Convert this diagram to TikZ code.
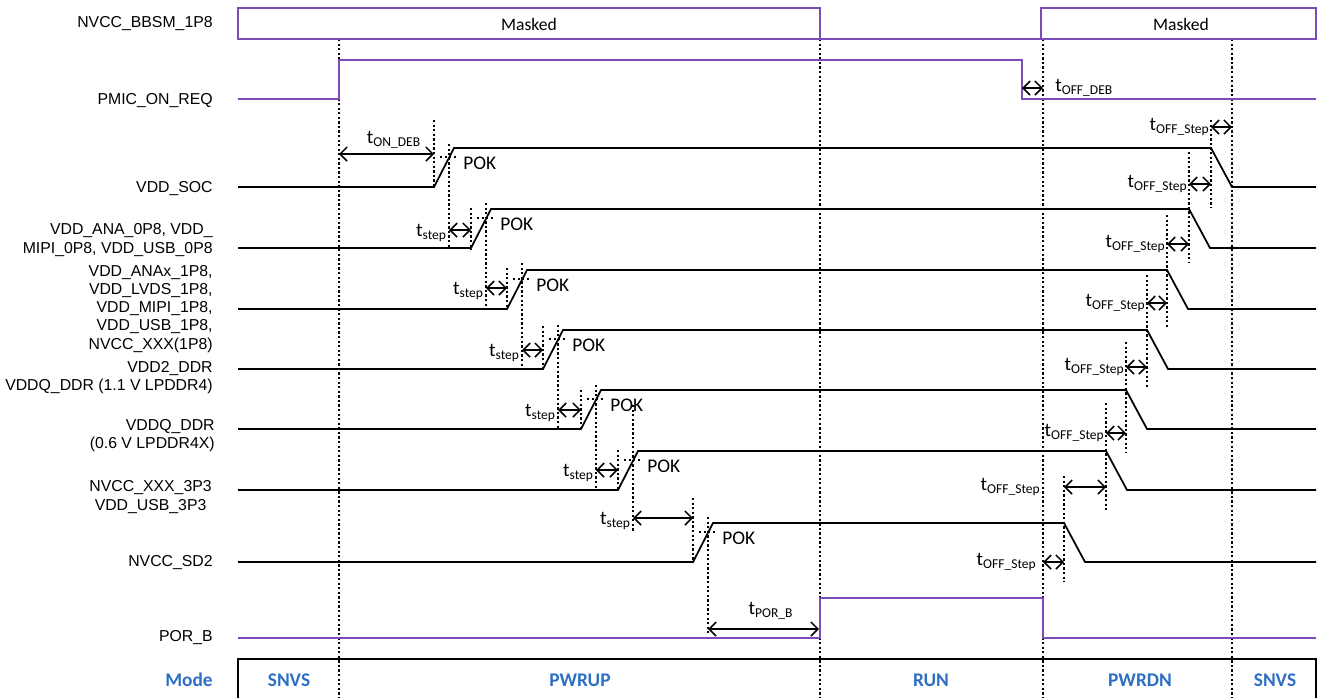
\documentclass[tikz,border=0pt]{standalone}
\usepackage{fontspec}
\setmainfont{Carlito}
\newfontfamily\arialfont{Liberation Sans}
\usetikzlibrary{arrows.meta}
\definecolor{sigpurple}{HTML}{7D4BB9}
\definecolor{modeblue}{HTML}{2E6FC4}
\newcommand{\tsub}[1]{t\textsubscript{#1}}

\begin{document}
\begin{tikzpicture}[x=0.02cm,y=-0.02cm,>={Straight Barb[length=4pt,width=8pt]}]
\tikzset{
				sigline/.style={line width=1pt},
				ctrlline/.style={line width=1.2pt,draw=sigpurple},
				guide/.style={line width=0.6pt,dash pattern=on 1.3pt off 1.3pt},
				span/.style={<->,line width=0.9pt},
				siglabel/.style={font=\arialfont\fontsize{9}{10.3}\selectfont,anchor=east,align=right,inner sep=0pt},
				timelabel/.style={font=\fontsize{11}{12}\selectfont,inner sep=0pt},
				poklabel/.style={font=\fontsize{11}{12}\selectfont,anchor=west,inner sep=0pt},
				masklabel/.style={font=\fontsize{10}{12}\selectfont,inner sep=0pt},
				modelabel/.style={font=\bfseries\fontsize{11}{12}\selectfont,text=modeblue,inner sep=0pt}
			}
			\useasboundingbox (0,0) rectangle (1323,698);
			
			% signal names
			\node[siglabel] (nbbsm) at (213,24) {NVCC\_BBSM\_1P8};
			\node[siglabel] (npmic) at (213,101) {PMIC\_ON\_REQ};
			\node[siglabel] (nsoc) at (213,189) {VDD\_SOC};
			\node[siglabel] (nana) at (213,240) {VDD\_ANA\_0P8, VDD\_\\MIPI\_0P8, VDD\_USB\_0P8};
			\node[siglabel] (nanax) at (213,309) {VDD\_ANAx\_1P8,\\VDD\_LVDS\_1P8,\\VDD\_MIPI\_1P8,\\VDD\_USB\_1P8,\\NVCC\_XXX(1P8)};
			\node[siglabel] (nddr) at (213,378) {VDD2\_DDR\\VDDQ\_DDR (1.1 V LPDDR4)};
			\node[siglabel] (nddrq) at (215,436) {VDDQ\_DDR\\(0.6 V LPDDR4X)};
			\node[siglabel,align=center] (nxxx) at (212,497) {NVCC\_XXX\_3P3\\VDD\_USB\_3P3};
			\node[siglabel] (nsd) at (213,563) {NVCC\_SD2};
			\node[siglabel] (npor) at (213,638) {POR\_B};
			
			% long guides
			\foreach \x in {339,820,1043,1232}
				\draw[guide] (\x,39) -- (\x,698);
			
			% NVCC_BBSM_1P8
			\draw[ctrlline] (238,8) rectangle (820,39);
			\draw[ctrlline] (820,39) -- (1041,39);
			\draw[ctrlline] (1041,8) rectangle (1316,39);
			\node[masklabel] (mask1) at (529,24) {Masked};
			\node[masklabel] (mask2) at (1181,24) {Masked};
			
			% PMIC_ON_REQ and POR_B
			\draw[ctrlline] (238,99) -- (339,99) -- (339,60) -- (1022,60) -- (1022,99) -- (1316,99);
			\draw[ctrlline] (238,638) -- (820,638) -- (820,598) -- (1043,598) -- (1043,638) -- (1316,638);
			
			% supply rails
			\foreach \n/\yl/\xs/\xf in {1/187/434/1211, 2/248/471/1189, 3/309/507/1167, 4/369/543/1147, 5/429/581/1126, 6/490/618/1106, 7/562/693/1064}{
				\draw[sigline] (238,\yl) -- (\xs,\yl) -- ++(20,-39) -- (\xf,\yl-39) -- ++(21,39) -- (1316,\yl);
				\coordinate (pok\n) at (\xs+15,\yl-30);
				\draw[guide] (\xs+6,\yl-30) -- (\xs+24,\yl-30);
				\node[poklabel] (poktext\n) at (\xs+29,\yl-24) {POK};
			}
			
			% short guides
			\foreach \x/\ya/\yb in {434/120/188, 449/144/248, 471/208/250, 486/203/309, 507/268/309, 522/263/369, 543/326/369, 558/325/429, 581/390/429, 596/385/490, 618/450/490, 633/405/532, 693/498/562, 708/517/635, 1211/120/207, 1189/152/263, 1167/215/328, 1147/275/387, 1126/342/453, 1106/403/512, 1064/476/582}
				\draw[guide] (\x,\ya) -- (\x,\yb);
			
			% power-up steps
			\foreach \a/\b/\y [count=\i] in {449/471/230, 486/507/288, 522/543/350, 558/581/410, 596/618/470, 633/693/518}{
				\coordinate (ups\i) at (\a,\y);
				\coordinate (upe\i) at (\b,\y);
				\draw[span] (ups\i) -- (upe\i);
				\node[timelabel,anchor=east] (upl\i) at ([xshift=-1pt,yshift=-1.5pt]ups\i) {\tsub{step}};
			}
			
			% power-down steps
			\foreach \a/\b/\y/\lx [count=\i] in {1211/1232/127/1210, 1189/1211/184/1188, 1167/1189/244/1166, 1147/1167/303/1146, 1126/1147/367/1125, 1106/1126/433/1105, 1064/1106/487/1041, 1043/1064/562/1037}{
				\coordinate (dns\i) at (\a,\y);
				\coordinate (dne\i) at (\b,\y);
				\draw[span] (dns\i) -- (dne\i);
				\node[timelabel,anchor=east] (dnl\i) at (\lx,\y) {\tsub{OFF\_Step}};
			}
			
			% debounce and reset
			\coordinate (ondeba) at (339,154);
			\coordinate (ondebb) at (434,154);
			\draw[span] (ondeba) -- (ondebb);
			\node[timelabel] (ondeb) at (394,140) {\tsub{ON\_DEB}};
			\coordinate (offdeba) at (1022,88);
			\coordinate (offdebb) at (1043,88);
			\draw[span] (offdeba) -- (offdebb);
			\node[timelabel,anchor=west] (offdeb) at (1055,88) {\tsub{OFF\_DEB}};
			\coordinate (pora) at (708,629);
			\coordinate (porb) at (819,629);
			\draw[span] (pora) -- (porb);
			\node[timelabel] (portext) at (771,611) {\tsub{POR\_B}};
			
			% mode bar
			\draw[line width=0.8pt] (238,698) -- (238,659) -- (1316,659) -- (1316,698);
			\node[modelabel,anchor=east] (mode) at (213,680) {Mode};
			\node[modelabel] (snvs1) at (289,680) {SNVS};
			\node[modelabel] (pwrup) at (580,680) {PWRUP};
			\node[modelabel] (run) at (931,680) {RUN};
			\node[modelabel] (pwrdn) at (1140,680) {PWRDN};
			\node[modelabel] (snvs2) at (1275,680) {SNVS};
\end{tikzpicture}
\end{document}
